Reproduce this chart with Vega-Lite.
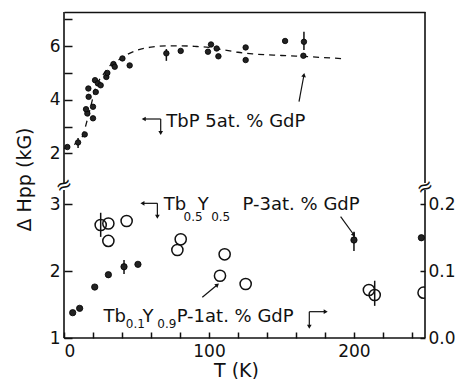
{
  "$schema": "https://vega.github.io/schema/vega-lite/v6.json",
  "padding": {"left": 15, "top": 11, "right": 0, "bottom": 0},
  "background": "white",
  "bounds": "flush",
  "spacing": 7,
  "config": {
    "font": "DejaVu Sans",
    "view": {"stroke": null},
    "axis": {"labelFont": "DejaVu Sans", "labelFontSize": 17, "labelColor": "#111", "titleFont": "DejaVu Sans", "titleFontSize": 19, "titleFontWeight": "normal", "titleColor": "#111", "domainColor": "#111", "tickColor": "#111", "domainWidth": 1.6, "tickWidth": 1.5, "ticks": true, "grid": false},
    "text": {"font": "DejaVu Sans", "color": "#111"}
  },
  "resolve": {"scale": {"x": "independent", "y": "independent"}},
  "datasets": {
    "top": [
      {"T": 2.3, "v": 2.24}, {"T": 9.7, "v": 2.41}, {"T": 14.3, "v": 2.71}, {"T": 20, "v": 3.31},
      {"T": 16.1, "v": 3.49}, {"T": 15.2, "v": 3.65}, {"T": 20, "v": 3.74}, {"T": 17, "v": 4.11},
      {"T": 16.8, "v": 4.42}, {"T": 21.9, "v": 4.29}, {"T": 21.4, "v": 4.73}, {"T": 23.4, "v": 4.61},
      {"T": 25.3, "v": 4.54}, {"T": 29.2, "v": 4.85}, {"T": 29.9, "v": 5.0}, {"T": 34.1, "v": 5.33},
      {"T": 35, "v": 5.23}, {"T": 40.3, "v": 5.54}, {"T": 45.3, "v": 5.28}, {"T": 70.6, "v": 5.73},
      {"T": 80.5, "v": 5.82}, {"T": 99.3, "v": 5.79}, {"T": 101.4, "v": 6.06}, {"T": 105.3, "v": 5.91},
      {"T": 106.5, "v": 5.62}, {"T": 125.3, "v": 5.95}, {"T": 125.3, "v": 5.48}, {"T": 152.5, "v": 6.19},
      {"T": 165.5, "v": 6.16}, {"T": 165.1, "v": 5.64}
    ],
    "topErr": [
      {"T": 9.7, "v": 2.2, "hi": 2.575}, {"T": 70.6, "v": 5.45, "hi": 5.89}, {"T": 165.5, "v": 5.85, "hi": 6.53}
    ],
    "curve": [
      {"T": 0, "v": 2.18}, {"T": 4, "v": 2.27}, {"T": 8, "v": 2.37}, {"T": 12.7, "v": 2.64},
      {"T": 16, "v": 3.24}, {"T": 18.4, "v": 3.74}, {"T": 20.7, "v": 4.24}, {"T": 23, "v": 4.6},
      {"T": 27.6, "v": 4.98}, {"T": 32, "v": 5.29}, {"T": 38, "v": 5.5}, {"T": 44, "v": 5.7},
      {"T": 50, "v": 5.84}, {"T": 60, "v": 5.96}, {"T": 70, "v": 6.01}, {"T": 80, "v": 6.01},
      {"T": 90, "v": 5.99}, {"T": 100, "v": 5.95}, {"T": 110, "v": 5.86}, {"T": 120, "v": 5.77},
      {"T": 130, "v": 5.71}, {"T": 150, "v": 5.65}, {"T": 170, "v": 5.6}, {"T": 193, "v": 5.53}
    ],
    "topArrows": [
      {"T": 55, "v": 3.284, "T2": 66.7, "v2": 3.284},
      {"T": 66.7, "v": 3.284, "T2": 66.7, "v2": 2.762},
      {"T": 162.1, "v": 3.928, "T2": 165.5, "v2": 4.923}
    ],
    "topHeads": [
      {"T": 55, "v": 3.284, "dir": 270}, {"T": 66.7, "v": 2.762, "dir": 180}, {"T": 165.5, "v": 4.923, "dir": 10.6}
    ],
    "topText": [{"T": 70.6, "v": 2.985, "text": "TbP 5at. % GdP"}],
    "breaks": [{"T": 0, "v": 0.81, "text": "≈"}, {"T": 249, "v": 0.74, "text": "≈"}],
    "frameTop": [{"T": 0, "v": 0.9, "hi": 7.27}, {"T": 249, "v": 0.9, "hi": 7.27}],
    "frameBotV": [{"T": 0, "L": 1, "hi": 3.21}, {"T": 249, "L": 1, "hi": 3.21}],
    "frameBotH": [{"T": 0, "T2": 249, "L": 1}],
    "botFilled": [
      {"T": 6.0, "L": 1.378}, {"T": 10.8, "L": 1.443}, {"T": 21.2, "L": 1.761}, {"T": 30.6, "L": 1.945},
      {"T": 41.4, "L": 2.064}, {"T": 51.0, "L": 2.1}, {"T": 200, "L": 2.463}, {"T": 246.5, "L": 2.497}
    ],
    "botFilledErr": [{"T": 41.4, "L": 1.955, "hi": 2.164}, {"T": 200, "L": 2.3, "hi": 2.587}],
    "botOpen": [
      {"T": 25.3, "R": 0.1687}, {"T": 30.6, "R": 0.171}, {"T": 30.6, "R": 0.145}, {"T": 43.2, "R": 0.1747},
      {"T": 80.5, "R": 0.1474}, {"T": 78.2, "R": 0.1314}, {"T": 110.8, "R": 0.125}, {"T": 107.6, "R": 0.093},
      {"T": 125.3, "R": 0.0806}, {"T": 210.3, "R": 0.0717}, {"T": 214.3, "R": 0.0642}, {"T": 248, "R": 0.0677}
    ],
    "botOpenErr": [{"T": 25.3, "R": 0.151, "hi": 0.187}, {"T": 214.3, "R": 0.048, "hi": 0.0855}],
    "botArrows": [
      {"T": 54.1, "L": 3.011, "T2": 64.4, "L2": 3.011},
      {"T": 64.4, "L": 3.011, "T2": 64.4, "L2": 2.811},
      {"T": 190.8, "L": 2.811, "T2": 200, "L2": 2.538},
      {"T": 169.2, "L": 1.393, "T2": 180.5, "L2": 1.393},
      {"T": 169.2, "L": 1.393, "T2": 169.2, "L2": 1.169},
      {"T": 95.4, "L": 1.608, "T2": 105.8, "L2": 1.794}
    ],
    "botHeads": [
      {"T": 54.1, "L": 3.011, "dir": 270}, {"T": 64.4, "L": 2.811, "dir": 180}, {"T": 200, "L": 2.538, "dir": 144},
      {"T": 180.5, "L": 1.393, "dir": 90}, {"T": 169.2, "L": 1.169, "dir": 180}, {"T": 105.8, "L": 1.794, "dir": 50}
    ],
    "botText": [
      {"T": 68.8, "L": 2.911, "text": "Tb"}, {"T": 92.2, "L": 2.911, "text": "Y"}, {"T": 123.2, "L": 2.911, "text": "P-3at. % GdP"},
      {"T": 27.2, "L": 1.243, "text": "Tb"}, {"T": 54.1, "L": 1.243, "text": "Y"}, {"T": 77.7, "L": 1.243, "text": "P-1at. % GdP"}
    ],
    "botSub": [
      {"T": 82.5, "L": 2.752, "text": "0.5"}, {"T": 101.5, "L": 2.752, "text": "0.5"},
      {"T": 42.6, "L": 1.149, "text": "0.1"}, {"T": 64.4, "L": 1.149, "text": "0.9"}
    ]
  },
  "vconcat": [
    {
      "width": 361,
      "height": 171,
      "encoding": {
        "x": {"field": "T", "type": "quantitative", "scale": {"domain": [0, 249], "nice": false, "zero": false},
              "axis": {"orient": "top", "labels": false, "ticks": false, "title": null, "domain": true}},
        "y": {"field": "v", "type": "quantitative", "scale": {"domain": [0.9, 7.27], "nice": false, "zero": false},
              "axis": {"values": [2, 3, 4, 5, 6, 7], "labelExpr": "datum.value % 2 == 0 ? datum.label : ''", "offset": -8, "domain": false, "tickSize": 8, "labelPadding": 4,
                       "title": "Δ Hpp (kG)", "titleX": -38, "titleY": 167, "titleAngle": 270, "titleAlign": "center", "titleBaseline": "bottom"}}
      },
      "layer": [
        {
          "data": {"name": "curve"},
          "mark": {"type": "line", "strokeDash": [6, 5], "strokeWidth": 1.3, "color": "#111", "interpolate": "monotone"}
        },
        {
          "data": {"name": "topErr"},
          "mark": {"type": "rule", "strokeWidth": 1.5, "color": "#111"},
          "encoding": {"y2": {"field": "hi"}}
        },
        {
          "data": {"name": "top"},
          "mark": {"type": "point", "filled": true, "size": 30, "color": "#222", "stroke": "#000", "strokeWidth": 0.8, "opacity": 1}
        },
        {
          "data": {"name": "frameTop"},
          "mark": {"type": "rule", "strokeWidth": 1.6, "color": "#111"},
          "encoding": {"y2": {"field": "hi"}}
        },
        {
          "data": {"name": "topArrows"},
          "mark": {"type": "rule", "strokeWidth": 1.2, "color": "#111"},
          "encoding": {"x2": {"field": "T2"}, "y2": {"field": "v2"}}
        },
        {
          "data": {"name": "topHeads"},
          "mark": {"type": "point", "shape": "triangle-up", "filled": true, "size": 22, "color": "#111", "opacity": 1},
          "encoding": {"angle": {"field": "dir", "type": "quantitative", "scale": null}}
        },
        {
          "data": {"name": "topText"},
          "mark": {"type": "text", "align": "left", "baseline": "alphabetic", "fontSize": 18},
          "encoding": {"text": {"field": "text"}}
        },
        {
          "data": {"name": "breaks"},
          "mark": {"type": "text", "align": "center", "baseline": "middle", "fontSize": 20, "angle": 335},
          "encoding": {"text": {"field": "text"}}
        }
      ]
    },
    {
      "width": 361,
      "height": 148,
      "resolve": {"scale": {"y": "independent"}, "axis": {"y": "independent"}},
      "encoding": {
        "x": {"field": "T", "type": "quantitative", "scale": {"domain": [0, 249], "nice": false, "zero": false},
              "axis": {"values": [0, 20, 40, 60, 80, 100, 120, 140, 160, 180, 200, 220, 240], "labelExpr": "datum.value % 100 == 0 ? datum.label : ''",
                       "offset": -6, "domain": false, "tickSize": 6, "labelPadding": 5,
                       "title": "T (K)", "titleX": 172, "titleY": 44, "titleBaseline": "alphabetic", "titleAlign": "center"}}
      },
      "layer": [
        {
          "encoding": {
            "y": {"field": "L", "type": "quantitative", "scale": {"domain": [1, 3.21], "nice": false, "zero": false},
                  "axis": {"values": [1, 2, 3], "offset": -8, "domain": false, "tickSize": 8, "labelPadding": 4, "title": null}}
          },
          "layer": [
            {
              "data": {"name": "frameBotV"},
              "mark": {"type": "rule", "strokeWidth": 1.6, "color": "#111"},
              "encoding": {"y2": {"field": "hi"}}
            },
            {
              "data": {"name": "frameBotH"},
              "mark": {"type": "rule", "strokeWidth": 1.6, "color": "#111"},
              "encoding": {"x2": {"field": "T2"}}
            },
            {
              "data": {"name": "botFilledErr"},
              "mark": {"type": "rule", "strokeWidth": 1.5, "color": "#111"},
              "encoding": {"y2": {"field": "hi"}}
            },
            {
              "data": {"name": "botFilled"},
              "mark": {"type": "point", "filled": true, "size": 40, "color": "#222", "stroke": "#000", "strokeWidth": 0.8, "opacity": 1, "clip": true}
            },
            {
              "data": {"name": "botArrows"},
              "mark": {"type": "rule", "strokeWidth": 1.2, "color": "#111"},
              "encoding": {"x2": {"field": "T2"}, "y2": {"field": "L2"}}
            },
            {
              "data": {"name": "botHeads"},
              "mark": {"type": "point", "shape": "triangle-up", "filled": true, "size": 22, "color": "#111", "opacity": 1},
              "encoding": {"angle": {"field": "dir", "type": "quantitative", "scale": null}}
            },
            {
              "data": {"name": "botText"},
              "mark": {"type": "text", "align": "left", "baseline": "alphabetic", "fontSize": 18},
              "encoding": {"text": {"field": "text"}}
            },
            {
              "data": {"name": "botSub"},
              "mark": {"type": "text", "align": "left", "baseline": "alphabetic", "fontSize": 12},
              "encoding": {"text": {"field": "text"}}
            }
          ]
        },
        {
          "encoding": {
            "y": {"field": "R", "type": "quantitative", "scale": {"domain": [0, 0.221], "nice": false, "zero": false},
                  "axis": {"orient": "right", "values": [0, 0.1, 0.2], "offset": -5, "domain": false, "tickSize": 5, "labelPadding": 3, "title": null}}
          },
          "layer": [
            {
              "data": {"name": "botOpenErr"},
              "mark": {"type": "rule", "strokeWidth": 1.5, "color": "#111"},
              "encoding": {"y2": {"field": "hi"}}
            },
            {
              "data": {"name": "botOpen"},
              "mark": {"type": "point", "filled": false, "size": 125, "color": "#111", "strokeWidth": 1.5, "opacity": 1, "clip": true}
            }
          ]
        }
      ]
    }
  ]
}
